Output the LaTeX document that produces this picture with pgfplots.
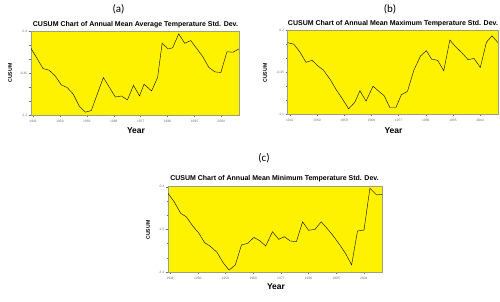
\documentclass[border=0pt]{standalone}
\usepackage{fontspec}
\setmainfont{Liberation Sans}
\newfontfamily\carlito{Carlito}
\usepackage{pgfplots}
\pgfplotsset{compat=1.18}
\definecolor{framec}{RGB}{160,160,120}
\definecolor{tickc}{RGB}{110,110,110}
\pgfplotsset{cusum/.style={
  scale only axis, anchor=south west,
  xmin=1940.3, xmax=2009.9,
  xtick={1941,1950,1959,1968,1977,1986,1995,2004},
  xticklabels={1941,1950,1959,1968,1977,1986,1995,2004},
  axis background/.style={fill=yellow},
  axis line style={framec, line width=0.6pt},
  tick style={tickc, line width=0.4pt},
  tick align=outside, tick pos=left,
  major tick length=2pt, minor tick length=1.5pt,
  minor y tick num=2, minor x tick num=0,
  ticklabel style={font=\fontsize{3.3}{4}\selectfont, text=tickc},
  xticklabel style={inner sep=1pt, yshift=-1.5pt},
  yticklabel style={inner sep=1pt, xshift=-0.5pt},
  x filter/.expression={1940.3+(x-1941)*69.6/69},
  cycle list={{black, line width=0.7pt, mark=none}},
}}
\begin{document}
\begin{tikzpicture}
\path[use as bounding box] (0,0) rectangle (500pt,301pt);
% (a)
\begin{axis}[cusum, at={(31pt,186pt)}, width=208pt, height=84pt,
  ymin=-1.2, ymax=0.3, ytick={-1.2,-0.45,0.3}, yticklabels={-1.2,-0.45,0.3}]
\addplot coordinates {(1941,-0.01) (1945,-0.37) (1947,-0.40) (1949,-0.50) (1951,-0.66) (1953,-0.71) (1955,-0.825) (1957,-1.04) (1959,-1.15) (1961,-1.12) (1965,-0.53) (1969,-0.88) (1971,-0.86) (1973,-0.93) (1975,-0.67) (1977,-0.86) (1978.5,-0.65) (1981,-0.77) (1983,-0.53) (1984.5,0.08) (1986.5,-0.02) (1988,0.00) (1990,0.25) (1992,0.08) (1994,0.13) (1998,-0.16) (2000,-0.35) (2002,-0.43) (2004,-0.44) (2006,-0.07) (2008,-0.08) (2010,-0.02)};
\end{axis}
% (b)
\begin{axis}[cusum, at={(287.7pt,187pt)}, width=210.3pt, height=84pt,
  ymin=-1.1, ymax=0.2, ytick={-1.1,-0.45,0.2}, yticklabels={-1.1,-0.45,0.2}]
\addplot coordinates {(1941,0.004) (1943,-0.02) (1945,-0.14) (1947,-0.30) (1949,-0.27) (1951,-0.36) (1952.7,-0.42) (1955,-0.57) (1957,-0.73) (1959,-0.87) (1961,-1.02) (1963,-0.92) (1964.7,-0.74) (1966.7,-0.90) (1969,-0.67) (1970.7,-0.74) (1972.7,-0.82) (1974.5,-1.00) (1976.5,-1.00) (1978.3,-0.80) (1980.3,-0.75) (1982.4,-0.42) (1984.6,-0.20) (1986.5,-0.12) (1988.2,-0.25) (1990.2,-0.27) (1992.2,-0.43) (1994.2,0.045) (1996.1,-0.06) (1998.1,-0.15) (2000.2,-0.26) (2002.1,-0.24) (2004.2,-0.38) (2006.2,0.01) (2008,0.11) (2010,0.004)};
\end{axis}
% (c)
\begin{axis}[cusum, at={(168pt,29pt)}, width=214pt, height=85.3pt,
  ymin=-3.3, ymax=0.3, ytick={-3.3,-1.5,0.3}, yticklabels={-3.3,-1.5,0.3}]
\addplot coordinates {(1941,0.02) (1943,-0.34) (1945.1,-0.825) (1946.9,-0.97) (1949,-1.36) (1951,-1.67) (1952.8,-2.06) (1954.8,-2.23) (1956.8,-2.47) (1958.8,-2.91) (1960.7,-3.22) (1962.7,-3.00) (1964.7,-2.16) (1966.7,-2.09) (1968.7,-1.84) (1970.6,-1.98) (1972.5,-2.20) (1974.7,-1.60) (1976.7,-1.92) (1978.5,-1.81) (1980.4,-1.99) (1982.4,-2.02) (1984.4,-1.18) (1986.3,-1.54) (1988.4,-1.50) (1990.4,-1.18) (1992.3,-1.46) (1994.3,-1.78) (1996.2,-2.12) (1998.2,-2.51) (2000.2,-3.00) (2002.1,-1.57) (2004.2,-1.53) (2006.1,0.23) (2008.3,-0.05) (2010,-0.02)};
\end{axis}
% texts
\node[font=\carlito\fontsize{11}{13}\selectfont] at (118.5pt,291.7pt) {(a)};
\node[font=\carlito\fontsize{11}{13}\selectfont] at (390pt,292pt) {(b)};
\node[font=\carlito\fontsize{11}{13}\selectfont] at (264pt,143pt) {(c)};
\node[font=\bfseries\fontsize{7}{8}\selectfont, inner sep=0pt] at (135.5pt,276.3pt) {CUSUM Chart of Annual Mean Average Temperature Std. Dev.};
\node[font=\bfseries\fontsize{7}{8}\selectfont, inner sep=0pt] at (393pt,277pt) {CUSUM Chart of Annual Mean Maximum Temperature Std. Dev.};
\node[font=\bfseries\fontsize{7}{8}\selectfont, inner sep=0pt] at (274.5pt,122pt) {CUSUM Chart of Annual Mean Minimum Temperature Std. Dev.};
\node[font=\bfseries\fontsize{8.5}{10}\selectfont, inner sep=0pt] at (136pt,170pt) {Year};
\node[font=\bfseries\fontsize{8.5}{10}\selectfont, inner sep=0pt] at (393.5pt,170pt) {Year};
\node[font=\bfseries\fontsize{8.5}{10}\selectfont, inner sep=0pt] at (276pt,14pt) {Year};
\node[font=\bfseries\fontsize{5.2}{6}\selectfont, inner sep=0pt, rotate=90] at (10pt,228pt) {CUSUM};
\node[font=\bfseries\fontsize{5.2}{6}\selectfont, inner sep=0pt, rotate=90] at (265pt,228pt) {CUSUM};
\node[font=\bfseries\fontsize{5.2}{6}\selectfont, inner sep=0pt, rotate=90] at (148pt,71pt) {CUSUM};
\end{tikzpicture}
\end{document}
